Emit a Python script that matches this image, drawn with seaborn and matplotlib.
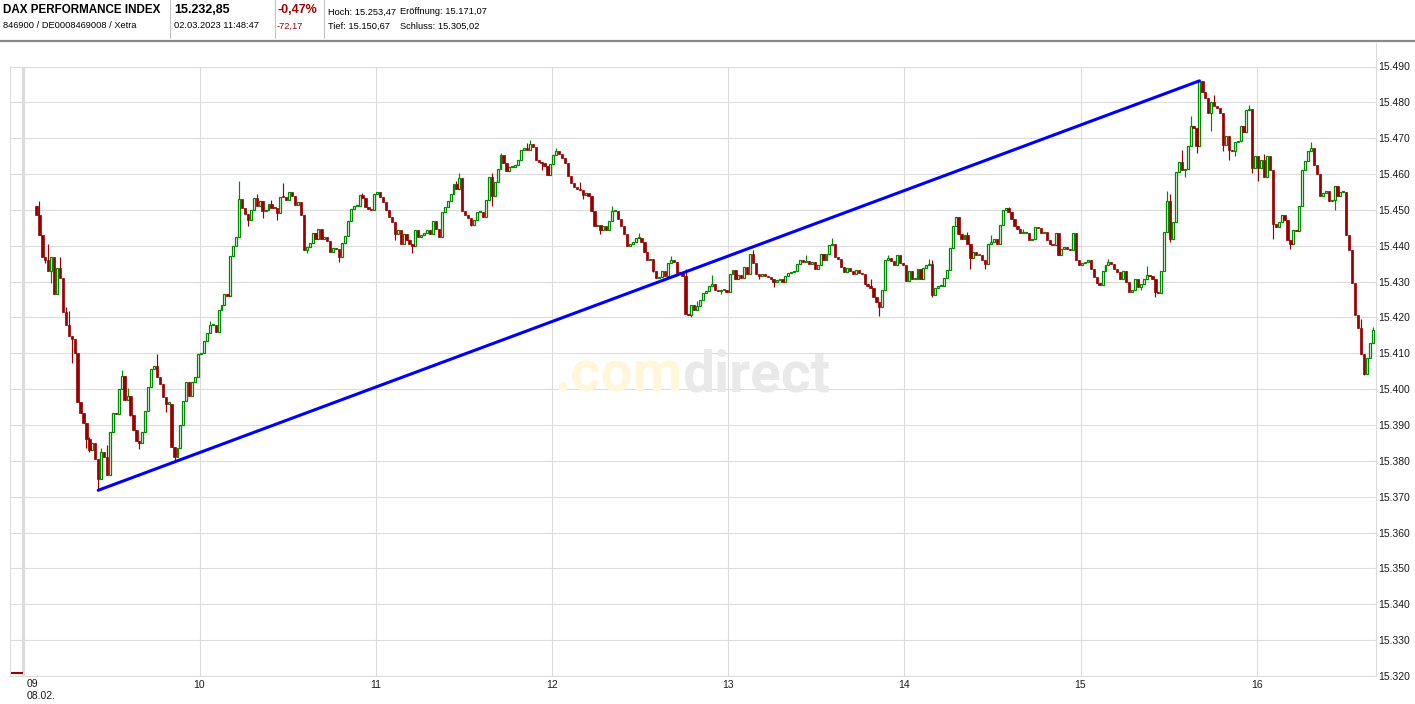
import numpy as np
import pandas as pd
import matplotlib
matplotlib.use("Agg")
import matplotlib.pyplot as plt
from matplotlib.lines import Line2D
import seaborn as sns

# Data: 1-minute candles, DAX 08.02., values as offset to 15000
BASE = 15000
FIRST_MINUTE = 4.5
first_open = 451.0
closes = [
    # 09:00 - 10:10
    448.5, 443, 437, 436, 433, 437, 426.6, 433.7, 431, 421.6,
    418, 414.8, 414, 410, 396.5, 393.3, 390.6, 386, 383, 385,
    380.4, 375, 382.5, 381, 376, 388, 393.3, 393, 400, 403.7,
    397, 398, 392.7, 388.5, 385.6, 385, 388, 394, 400.5, 405.7,
    406.6, 403.5, 401.5, 397.8, 396, 396, 384, 381.2, 383.5, 390,
    396.8, 402, 398, 402, 403.4, 409.7, 410, 413.5, 415.8, 418,
    418, 416, 422, 423.5, 426.5, 426, 437.2, 440, 442.5, 453,
    # 10:10 - 11:30
    450.6, 448.9, 447.2, 450, 453.2, 451.2, 452.6, 449.6, 450, 451.7,
    450.6, 450.5, 449.1, 453.7, 453.5, 452.8, 455, 454, 451.5, 452.3,
    448.7, 438.9, 439.6, 440.7, 443.5, 442, 444.7, 442, 442.5, 441.3,
    438.2, 439.5, 439.2, 436.9, 440.7, 442.8, 446.9, 450.2, 451, 451,
    454.2, 453.2, 450.7, 450.3, 450, 454.4, 455.1, 453.7, 452.1, 450,
    448, 446.6, 443.3, 444.4, 440.6, 443.3, 441.5, 440.6, 439.8, 444.3,
    442.4, 443, 443.5, 444.3, 443.3, 446.8, 444.7, 442.4, 449.4, 450.7,
    452.6, 454.4, 457.2, 455.9, 458.8,
    # 11:30 - 12:50
    449.6, 448.6, 447.8, 445.9, 447.2, 449.3, 449.5, 448.1, 452.8, 459.3,
    453.9, 457.9, 461.4, 465.4, 463, 460.9, 461.9, 461.9, 462.5, 463.9,
    466.7, 467.4, 466.7, 468.5, 467.6, 463.9, 463.5, 463, 462.3, 459.7,
    462.8, 465.4, 466.5, 465.6, 464.6, 463.2, 459.4, 457.4, 456.5, 455.8,
    455.6, 454.2, 454.6, 454, 449.6, 445.5, 445.8, 444.4, 445.4, 444.3,
    447, 449.8, 449.8, 447.5, 445.4, 443.3, 439.8, 440.6, 441, 442.2,
    442.2, 441, 438.2, 435.9, 436.4, 433.1, 431, 431.3, 433.1, 431.6,
    435.2, 435.9, 435.5, 432.4, 432.7, 431.5, 421.1, 420.6, 423.4,
    # 12:50 - 14:05
    422.2, 423.1, 424.8, 426.9, 427.3, 428.7, 429.3, 427.6, 427.5, 427.8,
    427.6, 427.1, 432.2, 433.3, 430.6, 431.8, 431.1, 434.1, 432, 437.8,
    435.3, 432.2, 431.5, 432.2, 431.5, 431.3, 430.6, 429.9, 430.4, 430.7,
    429.9, 431.5, 432.4, 432.7, 433.1, 435, 436.1, 435.5, 435.8, 434.8,
    435.5, 433.6, 434.7, 437.6, 436.1, 437.8, 440.3, 440.6, 437, 436.4,
    434.1, 432.7, 433.8, 433.1, 432.2, 433.3, 432.4, 432, 429.4, 428.7,
    428.2, 425.7, 424.4, 422.8, 427.6, 436.1, 436.6, 435.7, 434.7, 437.3,
    435.2, 434.7, 430.1, 433.1, 430.8,
    # 14:05 - 15:25
    430.8, 433.6, 430.8, 433.9, 434.5, 435, 426.2, 428.1, 428.7, 428.7,
    431.1, 433.3, 439.4, 445.4, 448.1, 443.3, 441.9, 442.9, 440.6, 436.6,
    438.2, 437.5, 437.3, 435.9, 434.8, 440.6, 441, 441.9, 440.6, 445.8,
    450, 450.6, 449.4, 447.5, 445.4, 444.7, 443.5, 443.5, 443.5, 441.7,
    441.9, 445.2, 445, 443.5, 443.8, 441.5, 440.6, 440.1, 443.6, 437.3,
    439.2, 439.6, 439.2, 438.9, 443.6, 435.9, 434.5, 435.2, 435.5, 435.9,
    433.6, 431.3, 429.6, 429, 433.1, 434.5, 435.6, 434.8, 433.4, 432.8,
    430.8, 433, 429.9, 427.1, 427.8, 430.8, 428.5, 429.3, 430.6, 431.9,
    431.5,
    # 15:25 - 16:40
    430.6, 427.1, 426.8, 432.9, 443.8, 452.6, 442, 446.6, 460.5, 463.3,
    461, 461.5, 467.7, 473.5, 472.9, 467.9, 486, 482.8, 481.2, 476.9,
    480, 479, 478.4, 476.9, 468.2, 470.7, 466.7, 466.4, 468.9, 469.2,
    473.5, 471.7, 477.9, 478.1, 461.7, 464.9, 461.7, 464, 459.3, 464.9,
    461, 446.1, 445.2, 446.6, 448.7, 447.2, 441.5, 440.6, 444.3, 444,
    451, 461, 463.6, 466.4, 467.3, 462.4, 459.9, 454, 454.7, 455.4,
    452.6, 452.8, 456.8, 454, 455, 455, 442.9, 438.9, 429.6, 420.6,
    417.2, 409.8, 404.2, 408.6, 412.9, 416.6,
]
wick_highs = {1: 452.5, 4: 440.5, 8: 436.8, 10: 423, 11: 421.8, 18: 386.7, 22: 383.7,
              24: 384.5, 29: 405.3, 31: 400.3, 41: 409.7, 59: 418.9, 69: 458,
              75: 454.4, 80: 452.8, 84: 457.4, 111: 454.8, 143: 458.1, 144: 460.3,
              155: 460.4, 158: 465.9, 167: 468.8, 168: 469.6, 177: 467.2, 185: 457.7,
              196: 451.2, 205: 443.5, 216: 437.2, 221: 433.6, 225: 424.5, 230: 431.8,
              244: 438.9, 262: 437.5, 271: 442.2, 284: 430.8, 290: 437.5, 293: 437.3,
              304: 436.4, 305: 436, 317: 443.8, 325: 442.9, 331: 450.9, 336: 444.7,
              365: 436.4, 378: 434.3, 385: 455.4, 386: 454.5, 390: 466.7, 393: 476.3,
              401: 482, 413: 479.4, 418: 465.6, 434: 469, 451: 419.7, 455: 417.4}
wick_lows = {3: 435.1, 5: 429.5, 12: 407.4, 17: 383.5, 18: 382.5, 21: 371.8, 32: 392.4,
             35: 383.4, 44: 393.6, 47: 380.3, 72: 445.6, 77: 447.8, 82: 447.2, 92: 438,
             103: 435.5, 122: 441.7, 128: 438, 148: 445.4, 155: 451.2, 172: 461.1,
             186: 453, 192: 443.3, 210: 432.7, 223: 420, 233: 426.5, 246: 430.6,
             251: 428.5, 287: 420.4, 305: 425.7, 318: 433.4, 323: 433.4, 376: 427.6,
             381: 425.7, 386: 441, 391: 459.3, 395: 466, 400: 472.1, 404: 466.5,
             406: 464, 408: 464.9, 414: 460.2, 416: 458.2, 421: 442, 427: 439.2,
             442: 450, 452: 403.9}

# trend line from the morning low to the afternoon high
trend_idx = [21, 396]
trend_prices = [15371.8, 15486.0]

price_ticks = [15320, 15330, 15340, 15350, 15360, 15370, 15380, 15390, 15400,
               15410, 15420, 15430, 15440, 15450, 15460, 15470, 15480, 15490]
hour_ticks = [10, 11, 12, 13, 14, 15, 16]
hour_labels = ["10", "11", "12", "13", "14", "15", "16"]
prev_close_marker = 15320.8

# Build candle table
df = pd.DataFrame({"close": BASE + np.array(closes, dtype=float)})
df["open"] = [BASE + first_open] + list(df["close"].iloc[:-1])
df["high"] = df[["open", "close"]].max(axis=1)
df["low"] = df[["open", "close"]].min(axis=1)
for i, v in wick_highs.items():
    df.loc[i, "high"] = max(df.loc[i, "high"], BASE + v)
for i, v in wick_lows.items():
    df.loc[i, "low"] = min(df.loc[i, "low"], BASE + v)
df["t"] = 9 + (FIRST_MINUTE + df.index) / 60
df["up"] = df["close"] >= df["open"]

GREEN = "#008a00"
RED = "#990000"
GRID = "#dcdcdc"

sns.set_style("white")
plt.rcParams["font.family"] = ["Liberation Sans", "DejaVu Sans"]

W, H = 1415, 704
fig = plt.figure(figsize=(W / 100, H / 100), dpi=100)
ax = fig.add_axes([10 / W, 28 / H, 1366 / W, 609.5 / H])

ax.set_xlim(8.9245, 16.677)
ax.set_ylim(15320, 15490)

# grid
ax.set_yticks(price_ticks)
ax.set_yticklabels([f"{v:,.0f}".replace(",", ".") for v in price_ticks])
ax.set_xticks(hour_ticks)
ax.set_xticklabels(hour_labels)
ax.grid(True, color=GRID, lw=0.8)
ax.set_axisbelow(True)
ax.yaxis.tick_right()
ax.tick_params(axis="both", length=0, labelsize=7.5, colors="#1a1a1a")
ax.tick_params(axis="x", pad=3)
ax.tick_params(axis="y", pad=1.5)
for side in ["left", "right", "bottom", "top"]:
    ax.spines[side].set_color(GRID)
    ax.spines[side].set_linewidth(0.8)

# day separator and previous close marker
ax.axvline(9.0, color=GRID, lw=2.3, zorder=1)
ax.hlines(prev_close_marker, 8.9245, 9.0, color=RED, lw=1.5, zorder=2)
ax.text(9.02, -0.013, "09", transform=ax.get_xaxis_transform(), ha="left", va="center",
        fontsize=7.5, color="#1a1a1a")
ax.text(9.02, -0.032, "08.02.", transform=ax.get_xaxis_transform(), ha="left", va="center",
        fontsize=7.5, color="#1a1a1a")

# watermark
ax.text(555 / W, 1 - 391 / H, ".com", transform=fig.transFigure, fontsize=41,
        fontweight="bold", family="Roboto", color="#fff6dc", ha="left", va="baseline", zorder=1.5)
ax.text(682 / W, 1 - 391 / H, "direct", transform=fig.transFigure, fontsize=41,
        fontweight="bold", family="Roboto", color="#e9e9e9", ha="left", va="baseline", zorder=1.5)

# candles
up = df[df["up"]]
dn = df[~df["up"]]
ax.vlines(up["t"], up["low"], up["high"], color=GREEN, lw=0.85, zorder=3)
ax.vlines(dn["t"], dn["low"], dn["high"], color=RED, lw=0.85, zorder=3)
ax.bar(up["t"], np.maximum(up["close"] - up["open"], 0.3), bottom=up["open"],
       width=0.66 / 60, facecolor="white", edgecolor=GREEN, lw=0.9, zorder=4)
ax.bar(dn["t"], np.maximum(dn["open"] - dn["close"], 0.3), bottom=dn["close"],
       width=0.78 / 60, facecolor=RED, edgecolor=RED, lw=0.5, zorder=4)

# trend line
trend = pd.DataFrame({"t": df["t"].iloc[trend_idx].values, "price": trend_prices})
sns.lineplot(data=trend, x="t", y="price", color="#0000ff", lw=2.2, ax=ax, zorder=5)
ax.set_xlabel("")
ax.set_ylabel("")

# right border reaches up to the header
fig.add_artist(Line2D([1376 / W, 1376 / W], [1 - 43 / H, 1 - 66.5 / H], color=GRID, lw=0.8))

# header
fig.add_artist(Line2D([0, 1], [1 - 40.5 / H, 1 - 40.5 / H], color="#8a8a8a", lw=1.6))
for xs in [169.5, 274.5, 323.5]:
    fig.add_artist(Line2D([xs / W, xs / W], [1 - 38 / H, 1], color="#c4c4c4", lw=0.8))

def head(x, y, s, size=6.7, bold=False, color="black"):
    fig.text(x / W, 1 - y / H, s, fontsize=size, fontweight="bold" if bold else "normal",
             color=color, ha="left", va="center")

head(3, 10, "DAX PERFORMANCE INDEX", 8.4, True)
head(3, 26, "846900 / DE0008469008 / Xetra")
head(174, 10, "15.232,85", 9, True)
head(174, 26, "02.03.2023 11:48:47")
head(277, 10, "-0,47%", 9, True, "#a00000")
head(277, 26, "-72,17", 6.7, False, "#a00000")
head(328.5, 12, "Hoch: 15.253,47")
head(400.5, 12, "Eröffnung: 15.171,07")
head(328.5, 26, "Tief: 15.150,67")
head(400.5, 26, "Schluss: 15.305,02")

fig.savefig("out.png", dpi=100)
